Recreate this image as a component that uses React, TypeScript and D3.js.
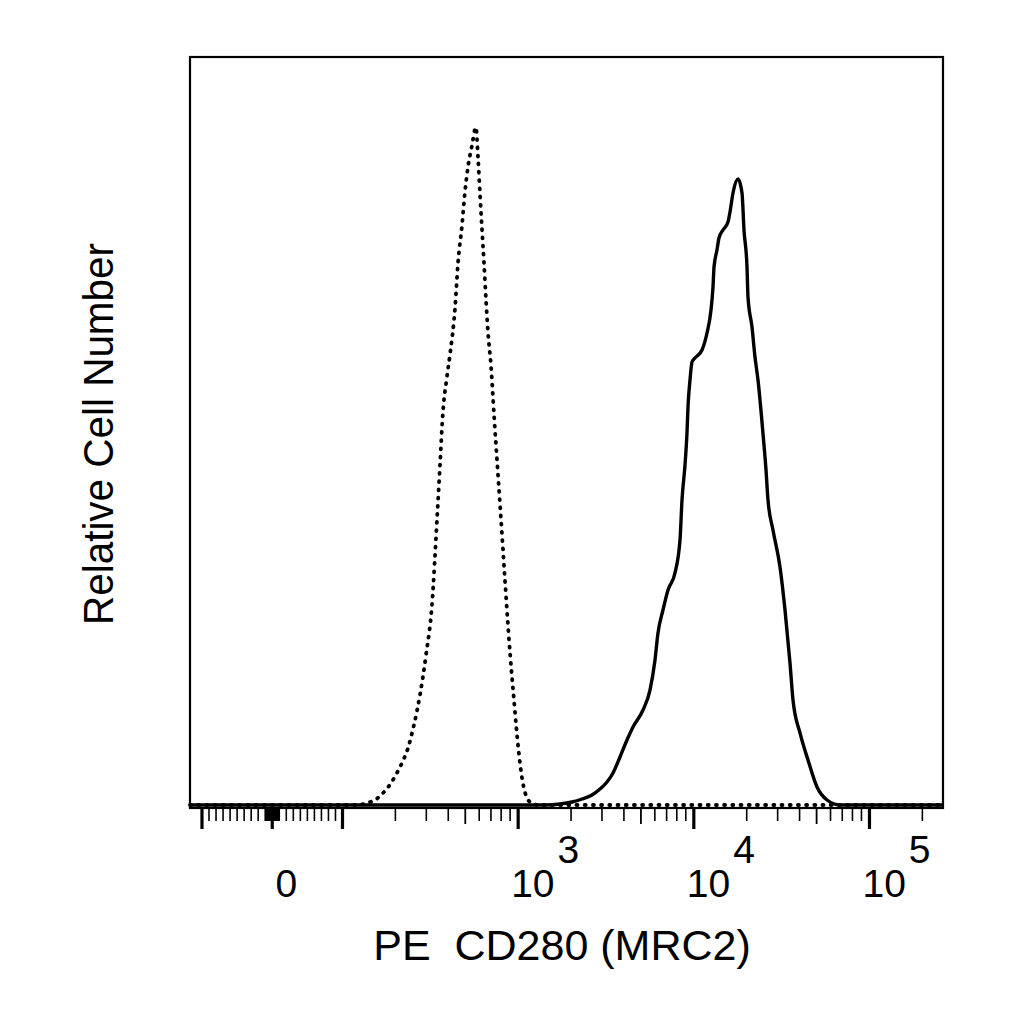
import React from "react";
import * as d3 from "d3";

// ---- data (fluorescence intensity, % of plot height) ----
const isotypeX = [-117, 100, 103, 121, 138, 153, 170, 189, 204, 218, 236, 255, 276, 299, 323, 345, 359, 373, 393, 409, 437, 455, 479, 498, 518, 546, 575, 591, 606, 622, 639, 656, 674, 701, 729, 758, 799, 841, 887, 947, 998, 1052, 1094, 1168, 1297, 262144];
const isotypeY = [0, 0, 0, 0, 0.27, 0.67, 1.6, 2.94, 4.28, 5.61, 7.62, 10.7, 14.7, 20.1, 26.7, 38.1, 45.5, 52.5, 57.2, 60.2, 66.4, 72.6, 77.5, 82.0, 85.3, 88.2, 90.6, 86.5, 81.8, 77.1, 72.5, 67.5, 63.1, 58.6, 52.1, 46.1, 38.1, 30.1, 22.1, 14.0, 8.0, 3.6, 1.7, 0.4, 0, 0];

const cd280X = [-117, 1168, 1422, 1731, 2025, 2309, 2632, 2923, 3204, 3467, 3799, 4165, 4506, 5137, 5630, 6012, 6252, 6675, 7129, 7811, 8343, 8565, 8906, 9143, 9264, 9511, 9764, 10155, 11133, 11885, 12525, 12858, 13032, 13548, 13907, 14657, 15652, 16066, 16711, 17846, 18806, 19306, 20078, 20344, 21440, 22297, 23192, 24857, 25755, 26440, 28225, 30946, 33046, 35278, 36692, 40222, 44668, 50259, 57330, 67952, 262144];
const cd280Y = [0, 0, 0, 0.13, 0.4, 0.8, 1.34, 2.14, 3.07, 4.28, 6.42, 8.69, 10.43, 12.7, 15.37, 19.39, 22.99, 26.07, 28.74, 31.02, 35.43, 40.78, 45.45, 49.73, 53.21, 56.82, 59.22, 59.76, 60.83, 63.1, 66.18, 69.25, 71.93, 74.2, 75.8, 76.87, 77.94, 79.28, 81.82, 83.69, 81.82, 76.87, 71.93, 67.91, 63.9, 59.89, 56.82, 49.2, 44.8, 40.78, 36.76, 31.82, 26.07, 18.98, 14.04, 9.63, 6.02, 2.41, 0.67, 0, 0];

const majorTicks = [-100, 0, 100, 1000, 10000, 100000];
const midTicks = [500, 5000, 50000];
const minorTicks = [
  -90, -80, -70, -60, -50, -40, -30, -20, -10,
  -9, -8, -7, -6, -5, -4, -3, -2, -1,
  1, 2, 3, 4, 5, 6, 7, 8, 9,
  10, 20, 30, 40, 50, 60, 70, 80, 90,
  200, 300, 400, 600, 700, 800, 900,
  2000, 3000, 4000, 6000, 7000, 8000, 9000,
  20000, 30000, 40000, 60000, 70000, 80000, 90000,
  200000,
];
const powerLabels = [
  { value: 1000, base: "10", exp: "3" },
  { value: 10000, base: "10", exp: "4" },
  { value: 100000, base: "10", exp: "5" },
];
const zeroLabel = { value: 0, text: "0" };
const xTitle = "PE  CD280 (MRC2)";
const yTitle = "Relative Cell Number";

const X_MIN = -117;
const X_MAX = 262144;

// ---- layout ----
const W = 1024;
const H = 1024;
const left = 190;
const right = 943;
const top = 57;
const bottom = 808;
const baseInset = 3;

// biexponential-like display transform: linear near zero, log above 100
const tx = (v: number) => {
  const a = Math.abs(v);
  const t = a <= 100 ? 0.004 * a : 0.4 + Math.log10(a / 100);
  return Math.sign(v) * t;
};
const xLin = d3.scaleLinear().domain([tx(X_MIN), tx(X_MAX)]).range([left, right]);
const x = (v: number) => xLin(tx(v));
const y = d3.scaleLinear().domain([0, 100]).range([bottom - baseInset, top]);

const line = d3
  .line<[number, number]>()
  .x((d) => x(d[0]))
  .y((d) => y(d[1]))
  .curve(d3.curveMonotoneX);

const isoPts: [number, number][] = isotypeX.map((v, i) => [v, isotypeY[i]]);
const cdPts: [number, number][] = cd280X.map((v, i) => [v, cd280Y[i]]);

const FONT = "'Liberation Sans', Arial, Helvetica, sans-serif";

export default function App() {
  return (
    <svg
      width={W}
      height={H}
      viewBox={`0 0 ${W} ${H}`}
      style={{ position: "absolute", left: 0, top: 0, background: "#fff" }}
      fontFamily={FONT}
    >
      <rect x={0} y={0} width={W} height={H} fill="#fff" />
      {/* curves */}
      <path
        d={line(isoPts) || ""}
        fill="none"
        stroke="#000"
        strokeWidth={3.8}
        strokeDasharray="1 7.2"
        strokeLinecap="round"
      />
      <path d={line(cdPts) || ""} fill="none" stroke="#000" strokeWidth={3.4} strokeLinejoin="round" />
      {/* frame */}
      <rect x={left} y={top} width={right - left} height={bottom - top} fill="none" stroke="#000" strokeWidth={2.2} />
      {/* ticks */}
      {minorTicks.map((v) => (
        <line key={"mi" + v} x1={x(v)} x2={x(v)} y1={bottom} y2={bottom + 13} stroke="#000" strokeWidth={1.6} />
      ))}
      {midTicks.map((v) => (
        <line key={"md" + v} x1={x(v)} x2={x(v)} y1={bottom} y2={bottom + 16} stroke="#000" strokeWidth={1.8} />
      ))}
      {majorTicks.map((v) => (
        <line key={"ma" + v} x1={x(v)} x2={x(v)} y1={bottom} y2={bottom + 21} stroke="#000" strokeWidth={3.2} />
      ))}
      {/* tick labels */}
      <text x={x(zeroLabel.value) + 14} y={897} fontSize={39} textAnchor="middle" fill="#000">
        {zeroLabel.text}
      </text>
      {powerLabels.map((l) => (
        <text key={l.exp} x={x(l.value) - 7} y={897} fontSize={39} fill="#000">
          {l.base}
          <tspan dx={3} dy={-34}>
            {l.exp}
          </tspan>
        </text>
      ))}
      {/* axis titles */}
      <text x={562} y={960} fontSize={43} textAnchor="middle" fill="#000" style={{ whiteSpace: "pre" }}>
        {xTitle}
      </text>
      <text
        transform={`translate(113, 434) rotate(-90)`}
        fontSize={43}
        textAnchor="middle"
        fill="#000"
        textLength={382}
        lengthAdjust="spacingAndGlyphs"
      >
        {yTitle}
      </text>
    </svg>
  );
}
